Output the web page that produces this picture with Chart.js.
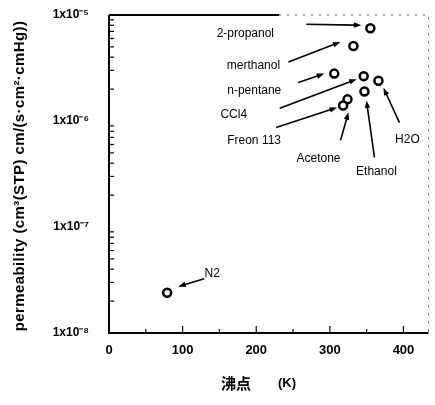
<!DOCTYPE html>
<html>
<head>
<meta charset="utf-8">
<script src="https://cdn.jsdelivr.net/npm/chart.js@4.4.1/dist/chart.umd.min.js"></script>
<style>
  html, body { margin: 0; padding: 0; background: #fff; }
  #wrap { width: 435px; height: 405px; }
</style>
</head>
<body>
<div id="wrap"><canvas id="chart" width="435" height="405"></canvas></div>
<script>
// donnees
const substances = ['2-propanol', 'merthanol', 'n-pentane', 'CCl4', 'H2O', 'Ethanol', 'Acetone', 'Freon 113', 'N2'];
const boilingPoints = [355, 332, 306, 346, 366, 347, 324, 318, 79];
const permeability = [7.5e-6, 5.1e-6, 2.8e-6, 2.65e-6, 2.4e-6, 1.9e-6, 1.6e-6, 1.4e-6, 2.4e-8];

const xTicks = [0, 100, 200, 300, 400];
const xMinorTicks = [50, 150, 250, 350];
const yTicks = [1e-8, 1e-7, 1e-6, 1e-5];
const yTickLabels = ['1x10\u207B\u2078', '1x10\u207B\u2077', '1x10\u207B\u2076', '1x10\u207B\u2075'];

// position des etiquettes et fleches (decalage en px par rapport au point)
const labelLayout = [
    { text: [-125, 5],  from: [-64, -4],  to: [-9, -3] },
    { text: [-100, 20], from: [-65, 16],  to: [-13, -4] },
    { text: [-80, 17],  from: [-36, 9],   to: [-10, 0] },
    { text: [-130, 39], from: [-84, 32],  to: [-7, 3] },
    { text: [29, 59],   from: [21, 42],   to: [5, 7] },
    { text: [12, 80],   from: [10, 66],   to: [2, 9] },
    { text: [-29, 59],  from: [-7, 41],   to: [1, 13] },
    { text: [-89, 35],  from: [-67, 22],  to: [-6, 2] },
    { text: [45, -19],  from: [37, -14],  to: [11, -6] }
];

function drawArrow(ctx, x1, y1, x2, y2) {
    const ang = Math.atan2(y2 - y1, x2 - x1);
    const head = 8;
    ctx.beginPath();
    ctx.moveTo(x1, y1);
    ctx.lineTo(x2 - Math.cos(ang) * head * 0.8, y2 - Math.sin(ang) * head * 0.8);
    ctx.stroke();
    ctx.beginPath();
    ctx.moveTo(x2, y2);
    ctx.lineTo(x2 - head * Math.cos(ang - 0.35), y2 - head * Math.sin(ang - 0.35));
    ctx.lineTo(x2 - head * Math.cos(ang + 0.35), y2 - head * Math.sin(ang + 0.35));
    ctx.closePath();
    ctx.fill();
}

// cadre, graduations interieures, titres et annotations
const decorPlugin = {
    id: 'decor',
    afterDraw(chart) {
        const ctx = chart.ctx;
        const area = chart.chartArea;
        const xs = chart.scales.x;
        const ys = chart.scales.y;
        ctx.save();

        // cadre
        ctx.strokeStyle = '#000';
        ctx.lineWidth = 2;
        ctx.beginPath();
        ctx.moveTo(area.left, area.top);
        ctx.lineTo(area.left, area.bottom);
        ctx.lineTo(area.right, area.bottom);
        ctx.stroke();
        ctx.beginPath();
        ctx.moveTo(area.left, area.top);
        ctx.lineTo(area.left + 170, area.top);
        ctx.stroke();
        ctx.lineWidth = 1;
        ctx.setLineDash([2, 6]);
        ctx.strokeStyle = '#555';
        ctx.beginPath();
        ctx.moveTo(area.left + 170, area.top);
        ctx.lineTo(area.right, area.top);
        ctx.lineTo(area.right, area.bottom);
        ctx.stroke();
        ctx.setLineDash([]);

        // graduations
        ctx.strokeStyle = '#000';
        ctx.lineWidth = 1.2;
        xTicks.slice(1).forEach(v => {
            const px = xs.getPixelForValue(v);
            ctx.beginPath(); ctx.moveTo(px, area.bottom); ctx.lineTo(px, area.bottom - 7); ctx.stroke();
        });
        xMinorTicks.forEach(v => {
            const px = xs.getPixelForValue(v);
            ctx.beginPath(); ctx.moveTo(px, area.bottom); ctx.lineTo(px, area.bottom - 4); ctx.stroke();
        });
        for (let e = -8; e < -5; e++) {
            for (let m = 2; m <= 9; m++) {
                const py = ys.getPixelForValue(m * Math.pow(10, e));
                ctx.beginPath(); ctx.moveTo(area.left, py); ctx.lineTo(area.left + 5, py); ctx.stroke();
            }
        }

        // annotations
        const meta = chart.getDatasetMeta(0);
        ctx.fillStyle = '#000';
        ctx.lineWidth = 1.6;
        ctx.font = '12px "Liberation Sans", Arial, sans-serif';
        ctx.textAlign = 'center';
        ctx.textBaseline = 'middle';
        meta.data.forEach((pt, i) => {
            const lay = labelLayout[i];
            ctx.fillText(substances[i], pt.x + lay.text[0], pt.y + lay.text[1]);
            drawArrow(ctx, pt.x + lay.from[0], pt.y + lay.from[1], pt.x + lay.to[0], pt.y + lay.to[1]);
        });

        // titres des axes
        ctx.font = 'bold 15px "Noto Sans CJK JP", "Liberation Sans", sans-serif';
        ctx.fillText('沸点', 236, 383);
        ctx.font = 'bold 13px "Liberation Sans", Arial, sans-serif';
        ctx.fillText('(K)', 287, 383);

        ctx.translate(20, 176);
        ctx.rotate(-Math.PI / 2);
        ctx.font = 'bold 15px "Liberation Sans", Arial, sans-serif';
        ctx.letterSpacing = '0.4px';
        ctx.fillText('permeability (cm\u00B3(STP) cm/(s\u00B7cm\u00B2\u00B7cmHg))', 0, 0);
        ctx.restore();
    }
};

new Chart(document.getElementById('chart').getContext('2d'), {
    type: 'scatter',
    data: {
        datasets: [{
            label: 'permeability',
            data: boilingPoints.map((x, i) => ({ x: x, y: permeability[i] })),
            pointRadius: 4,
            pointBorderWidth: 2.5,
            pointBorderColor: '#000',
            pointBackgroundColor: '#fff'
        }]
    },
    options: {
        responsive: false,
        animation: false,
        layout: { padding: { top: 15, right: 0, left: 0, bottom: 0 } },
        plugins: {
            legend: { display: false },
            tooltip: { enabled: false }
        },
        scales: {
            x: {
                type: 'linear',
                min: 0,
                max: 434,
                afterBuildTicks: s => { s.ticks = xTicks.map(v => ({ value: v })); },
                afterFit: s => { s.height = 72; s.paddingLeft = 0; s.paddingRight = 0; },
                grid: { display: false, drawTicks: false },
                border: { display: false },
                ticks: {
                    padding: 10,
                    color: '#000',
                    font: { family: '"Liberation Sans", Arial, sans-serif', size: 13, weight: 'bold' }
                }
            },
            y: {
                type: 'logarithmic',
                min: 1e-8,
                max: 1e-5,
                afterBuildTicks: s => { s.ticks = yTicks.map(v => ({ value: v })); },
                afterFit: s => { s.width = 109; s.paddingTop = 0; s.paddingBottom = 0; },
                grid: { display: false, drawTicks: false },
                border: { display: false },
                ticks: {
                    padding: 20,
                    color: '#000',
                    font: { family: '"Liberation Sans", Arial, sans-serif', size: 12, weight: 'bold' },
                    callback: function(value) {
                        const idx = yTicks.findIndex(t => Math.abs(t - value) / t < 1e-6);
                        return idx >= 0 ? yTickLabels[idx] : '';
                    }
                }
            }
        }
    },
    plugins: [decorPlugin]
});
</script>
</body>
</html>
